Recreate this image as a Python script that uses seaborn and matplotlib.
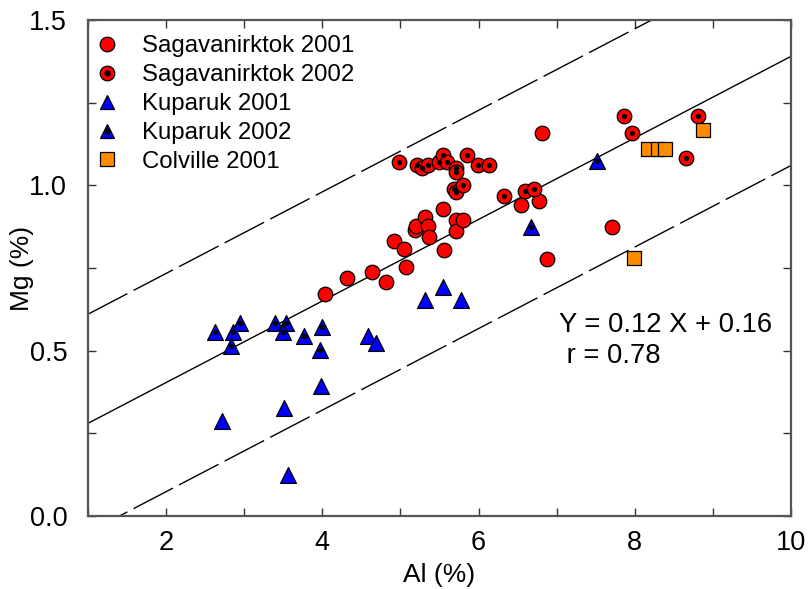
import matplotlib
matplotlib.use("Agg")
import matplotlib.pyplot as plt
from matplotlib.lines import Line2D
from matplotlib.legend_handler import HandlerTuple
import seaborn as sns
import pandas as pd
import numpy as np

# ---- data ----
sag01_al = [4.03, 4.31, 4.63, 4.82, 4.92, 5.05, 5.07, 5.18, 5.20, 5.31, 5.35, 5.37,
            5.55, 5.56, 5.71, 5.71, 5.80, 6.54, 6.77, 6.81, 6.87, 7.71]
sag01_mg = [0.671, 0.721, 0.739, 0.709, 0.832, 0.807, 0.752, 0.865, 0.878, 0.905, 0.876, 0.844,
            0.929, 0.804, 0.894, 0.862, 0.894, 0.941, 0.953, 1.159, 0.776, 0.873]

sag02_al = [4.98, 5.21, 5.28, 5.35, 5.50, 5.54, 5.60, 5.71, 5.71, 5.85, 5.99, 6.13,
            5.68, 5.71, 5.80, 6.33, 6.60, 6.71, 7.86, 7.96, 8.65, 8.81]
sag02_mg = [1.070, 1.061, 1.051, 1.062, 1.070, 1.091, 1.070, 1.051, 1.041, 1.091, 1.061, 1.061,
            0.989, 0.981, 1.002, 0.969, 0.982, 0.990, 1.210, 1.159, 1.083, 1.210]

kup01_al = [2.72, 3.51, 3.98, 3.56, 4.59, 4.69, 5.31, 5.55, 5.78]
kup01_mg = [0.286, 0.326, 0.393, 0.124, 0.545, 0.524, 0.653, 0.693, 0.653]

kup02_al = [2.63, 2.85, 2.95, 2.83, 3.40, 3.54, 3.50, 3.77, 3.99, 3.97, 6.67, 7.51]
kup02_mg = [0.555, 0.555, 0.585, 0.514, 0.585, 0.585, 0.555, 0.544, 0.572, 0.502, 0.875, 1.073]

col01_al = [8.17, 8.30, 8.39, 8.87, 7.99]
col01_mg = [1.109, 1.109, 1.109, 1.167, 0.781]

labels = ["Sagavanirktok 2001", "Sagavanirktok 2002", "Kuparuk 2001",
          "Kuparuk 2002", "Colville 2001"]

fit_slope = 0.1233
fit_intercept = 0.157
band_halfwidth = 0.33
equation_text = "Y = 0.12 X + 0.16\n r = 0.78"

x_ticks = [2, 4, 6, 8, 10]
x_tick_labels = ["2", "4", "6", "8", "10"]
y_ticks = [0.0, 0.5, 1.0, 1.5]
y_tick_labels = ["0.0", "0.5", "1.0", "1.5"]

# ---- style ----
sns.set_style("ticks")
plt.rcParams["font.family"] = ["Liberation Sans", "DejaVu Sans"]
plt.rcParams["text.color"] = "black"
plt.rcParams["axes.labelcolor"] = "black"
plt.rcParams["xtick.color"] = "black"
plt.rcParams["ytick.color"] = "black"

fig = plt.figure(figsize=(8.09, 5.89), dpi=100)
ax = fig.add_axes([88 / 809, 1 - 516 / 589, (791 - 88) / 809, (516 - 20) / 589])

groups = [
    (sag01_al, sag01_mg, "o", "#FF0000", False),
    (sag02_al, sag02_mg, "o", "#FF0000", True),
    (kup01_al, kup01_mg, "^", "#0000FF", False),
    (kup02_al, kup02_mg, "^", "#0000FF", True),
    (col01_al, col01_mg, "s", "#FF8C00", False),
]

# regression and prediction lines
xs = np.array([1.0, 10.0])
line_df = pd.DataFrame({
    "x": np.concatenate([xs, xs, xs]),
    "y": np.concatenate([fit_slope * xs + fit_intercept,
                         fit_slope * xs + fit_intercept + band_halfwidth,
                         fit_slope * xs + fit_intercept - band_halfwidth]),
    "kind": ["fit"] * 2 + ["upper"] * 2 + ["lower"] * 2,
})
sns.lineplot(data=line_df[line_df.kind == "fit"], x="x", y="y", color="black",
             linewidth=1.0, ax=ax, legend=False)
for k in ["upper", "lower"]:
    sns.lineplot(data=line_df[line_df.kind == k], x="x", y="y", color="black",
                 linewidth=1.0, ax=ax, legend=False, dashes=False,
                 linestyle=(0, (32, 5)))

sizes = {"o": 110, "^": 130, "s": 95}
for (al, mg, mk, col, dotted), lab in zip(groups, labels):
    df = pd.DataFrame({"Al": al, "Mg": mg})
    sns.scatterplot(data=df, x="Al", y="Mg", marker=mk, color=col, s=sizes[mk],
                    edgecolor="black", linewidth=0.9, ax=ax, zorder=3, legend=False)
    if dotted:
        sns.scatterplot(data=df, x="Al", y="Mg", marker="o", color="black", s=14,
                        edgecolor="black", linewidth=0, ax=ax, zorder=4, legend=False)

# legend
handles = []
for (al, mg, mk, col, dotted) in groups:
    base = Line2D([], [], linestyle="none", marker=mk, markersize=10.5 if mk != "s" else 9.5,
                  markerfacecolor=col, markeredgecolor="black", markeredgewidth=0.9)
    if dotted:
        dot = Line2D([], [], linestyle="none", marker="o", markersize=3.5,
                     markerfacecolor="black", markeredgecolor="black")
        handles.append((base, dot))
    else:
        handles.append(base)
ax.legend(handles, labels, loc="upper left", frameon=False, fontsize=17.3,
          handler_map={tuple: HandlerTuple(ndivide=1, pad=0)},
          handlelength=1.0, handletextpad=0.95, labelspacing=0.29,
          borderaxespad=0.2, bbox_to_anchor=(-5 / 703, 1 - 3 / 496), borderpad=0.3)

ax.text(7.03, 0.53, equation_text, fontsize=19.7, ha="left", va="center",
        linespacing=1.25)

ax.set_xlim(1, 10)
ax.set_ylim(0, 1.5)
ax.set_xticks(x_ticks)
ax.set_xticklabels(x_tick_labels)
ax.set_yticks(y_ticks)
ax.set_yticklabels(y_tick_labels)
ax.set_xticks(np.arange(1, 10.01, 1), minor=True)
ax.set_yticks(np.arange(0, 1.51, 0.25), minor=True)
ax.tick_params(which="both", direction="in", top=True, right=True, length=6,
               width=1.0, color="#333333", labelsize=19.5)
ax.tick_params(axis="x", pad=10)
ax.tick_params(axis="y", pad=15)
ax.set_xlabel("Al (%)", fontsize=19, labelpad=5)
ax.set_ylabel("Mg (%)", fontsize=19)
ax.yaxis.set_label_coords(-54 / 703, 0.5)
for sp in ax.spines.values():
    sp.set_linewidth(1.6)
    sp.set_color("#555555")
    sp.set_visible(True)

fig.savefig("out.png", dpi=100)
